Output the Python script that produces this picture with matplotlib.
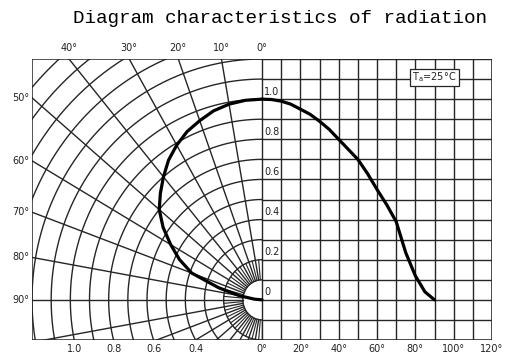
import numpy as np
import matplotlib
matplotlib.use("Agg")
import matplotlib.pyplot as plt
from matplotlib.patches import Rectangle

# radiation pattern (angle from axis in degrees, relative intensity)
angles = [0, 5, 10, 15, 20, 25, 30, 35, 40, 45, 50, 55, 60, 65, 70, 75, 80, 85, 90]
intensity = [1.0, 0.998, 0.99, 0.975, 0.95, 0.925, 0.89, 0.85, 0.80, 0.75, 0.70,
             0.63, 0.55, 0.475, 0.39, 0.235, 0.12, 0.04, 0.0]

top_labels = ["40°", "30°", "20°", "10°"]
top_angles = [40, 30, 20, 10]
side_labels = ["50°", "60°", "70°", "80°"]
side_angles = [50, 60, 70, 80]
radius_labels = ["1.0", "0.8", "0.6", "0.4"]
radius_values = [1.0, 0.8, 0.6, 0.4]
x_tick_deg = [0, 20, 40, 60, 80, 100, 120]
y_tick_vals = [0, 0.2, 0.4, 0.6, 0.8, 1.0]

fig = plt.figure(figsize=(5.07, 3.56), dpi=100)
ax = fig.add_axes([32 / 507, 16 / 356, 460 / 507, 281 / 356])
ax.set_xlim(-12, 12)
ax.set_ylim(-2, 12)
ax.axis("off")

lc = "#262626"
lw = 1.0

# right side: rectangular grid, 1 cell = 10 deg / 0.1 intensity
for xv in range(0, 13):
    ax.plot([xv, xv], [-2, 12], color=lc, lw=lw)
for yv in range(-2, 13):
    ax.plot([0, 12], [yv, yv], color=lc, lw=lw)

# left side: polar grid, clipped to the left box
clip = Rectangle((-12, -2), 12, 14, transform=ax.transData)
th = np.linspace(0, np.pi, 400)
for r in range(1, 17):
    l, = ax.plot(-r * np.sin(th), r * np.cos(th), color=lc, lw=lw)
    l.set_clip_path(clip)
for a in range(10, 181, 10):
    t = np.radians(a)
    l, = ax.plot([-np.sin(t), -20 * np.sin(t)], [np.cos(t), 20 * np.cos(t)], color=lc, lw=lw)
    l.set_clip_path(clip)
for a in range(5, 180, 10):
    t = np.radians(a)
    l, = ax.plot([-np.sin(t), -2 * np.sin(t)], [np.cos(t), 2 * np.cos(t)], color=lc, lw=lw * 0.8)
    l.set_clip_path(clip)

# frame
ax.plot([-12, 12, 12, -12, -12], [-2, -2, 12, 12, -2], color=lc, lw=1.1)

# curves
a = np.radians(angles)
I = np.array(intensity)
ax.plot(-10 * I * np.sin(a), 10 * I * np.cos(a), color="black", lw=2.3, solid_capstyle="round")
ax.plot(np.array(angles) / 10, 10 * I, color="black", lw=2.3, solid_capstyle="round")

fs = 7
tc = "#222222"
for lab, ang in zip(top_labels, top_angles):
    ax.text(-12 * np.tan(np.radians(ang)), 12.55, lab, fontsize=fs, color=tc, ha="center", va="center")
ax.text(0, 12.55, "0°", fontsize=fs, color=tc, ha="center", va="center")
for lab, ang in zip(side_labels, side_angles):
    ax.text(-12.15, 12 / np.tan(np.radians(ang)), lab, fontsize=fs, color=tc, ha="right", va="center")
ax.text(-12.15, 0, "90°", fontsize=fs, color=tc, ha="right", va="center")
for lab, rv in zip(radius_labels, radius_values):
    ax.text(-np.sqrt((10 * rv) ** 2 - 4), -2.45, lab, fontsize=fs, color=tc, ha="center", va="center")
for d in x_tick_deg:
    ax.text(d / 10, -2.45, f"{d}°", fontsize=fs, color=tc, ha="center", va="center")
for v in y_tick_vals:
    lab = "0" if v == 0 else f"{v:.1f}"
    ax.text(0.12, v * 10 + 0.38, lab, fontsize=fs, color=tc, ha="left", va="center")

ax.text(9.0, 11.08, "T$_\\mathregular{a}$=25°C", fontsize=fs, color=tc, ha="center", va="center",
        bbox=dict(boxstyle="square,pad=0.2", facecolor="white", edgecolor=lc, linewidth=0.9))

fig.text(0.552, 0.948, "Diagram characteristics of radiation", fontsize=13.9,
         family="Liberation Mono", ha="center", va="center", color="black")

fig.savefig("out.png", dpi=100)
